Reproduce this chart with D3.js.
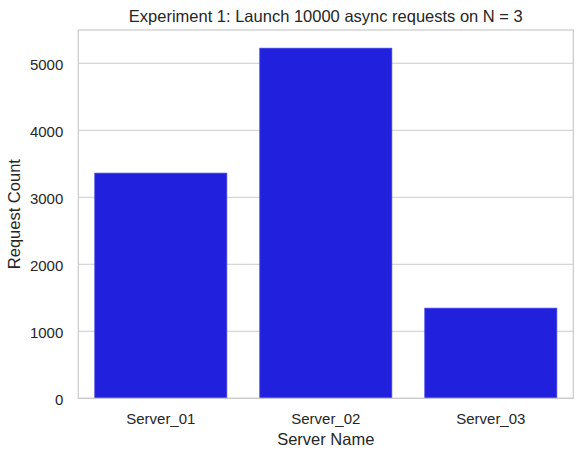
<!DOCTYPE html>
<html>
<head>
<meta charset="utf-8">
<script src="https://cdn.jsdelivr.net/npm/d3@7"></script>
<style>
  html, body { margin: 0; padding: 0; background: #ffffff; }
  svg { display: block; font-family: "Liberation Sans", Arial, sans-serif; }
</style>
</head>
<body>
<svg id="chart" width="583" height="457"></svg>
<script>
const categories = ["Server_01", "Server_02", "Server_03"];
const requestCounts = [3360, 5225, 1345];
const yTicks = [0, 1000, 2000, 3000, 4000, 5000];
const titleText = "Experiment 1: Launch 10000 async requests on N = 3";
const xLabelText = "Server Name";
const yLabelText = "Request Count";

const svg = d3.select("#chart");
const margin = { left: 78.3, right: 583 - 573.3, top: 30, bottom: 457 - 398.3 };
const W = 583 - margin.left - margin.right;
const H = 457 - margin.top - margin.bottom;
const textColor = "#262626";
const gridColor = "#cccccc";

const x = d3.scaleBand().domain(categories).range([0, W]).paddingInner(0.2).paddingOuter(0.1);
const yMax = d3.max(requestCounts) * 1.052;
const y = d3.scaleLinear().domain([0, yMax]).range([H, 0]);

const g = svg.append("g").attr("transform", `translate(${margin.left},${margin.top})`);

// grid
g.append("g").selectAll("line").data(yTicks).join("line")
  .attr("x1", 0).attr("x2", W)
  .attr("y1", d => y(d)).attr("y2", d => y(d))
  .attr("stroke", gridColor).attr("stroke-width", 1);

// bars
g.append("g").selectAll("rect").data(categories).join("rect")
  .attr("x", d => x(d))
  .attr("width", x.bandwidth())
  .attr("y", (d, i) => y(requestCounts[i]))
  .attr("height", (d, i) => H - y(requestCounts[i]))
  .attr("fill", "#2020dd")
  .attr("stroke", "#3f3fe4")
  .attr("stroke-width", 0.8);

// spines
g.append("rect").attr("x", 0).attr("y", 0).attr("width", W).attr("height", H)
  .attr("fill", "none").attr("stroke", gridColor).attr("stroke-width", 1.25);

// y axis
const yAxis = g.append("g").call(d3.axisLeft(y).tickValues(yTicks).tickSize(0).tickPadding(15).tickFormat(d3.format("d")));
yAxis.select(".domain").remove();
yAxis.selectAll("text").attr("font-size", "15px").attr("fill", textColor)
  .attr("dy", "0.42em")
  .attr("font-family", "Liberation Sans, Arial, sans-serif");

// x axis
const xAxis = g.append("g").attr("transform", `translate(0,${H})`)
  .call(d3.axisBottom(x).tickSize(0).tickPadding(15));
xAxis.select(".domain").remove();
xAxis.selectAll("text").attr("font-size", "15px").attr("fill", textColor)
  .attr("font-family", "Liberation Sans, Arial, sans-serif");

// title
svg.append("text").attr("x", margin.left + W / 2).attr("y", 21.6)
  .attr("text-anchor", "middle").attr("font-size", "16.5px").attr("fill", textColor)
  .text(titleText);

// x label
svg.append("text").attr("x", margin.left + W / 2).attr("y", 445)
  .attr("text-anchor", "middle").attr("font-size", "16.5px").attr("fill", textColor)
  .text(xLabelText);

// y label
svg.append("text")
  .attr("transform", `translate(20,${margin.top + H / 2}) rotate(-90)`)
  .attr("text-anchor", "middle").attr("font-size", "16.5px").attr("fill", textColor)
  .text(yLabelText);
</script>
</body>
</html>
